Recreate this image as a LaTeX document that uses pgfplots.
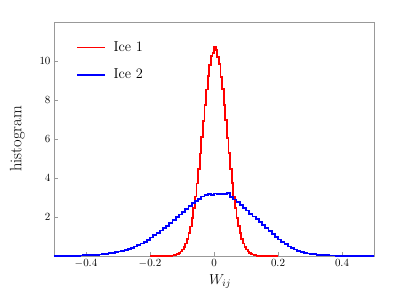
\documentclass[border=0pt]{standalone}
\usepackage{pgfplots}
\pgfplotsset{compat=1.18}
\begin{document}
\begin{tikzpicture}
\useasboundingbox (0pt,0pt) rectangle (393pt,295pt);
\begin{axis}[
  at={(54pt,39pt)}, anchor=south west,
  scale only axis, width=320pt, height=234pt,
  xmin=-0.5, xmax=0.5, ymin=0, ymax=12,
  xtick={-0.4,-0.2,0,0.2,0.4},
  xticklabels={$-0.4$,$-0.2$,$0$,$0.2$,$0.4$},
  ytick={2,4,6,8,10},
  tick pos=left, tick align=inside,
  major tick length=4pt,
  axis line style={gray!80},
  major tick style={gray!80, line width=0.6pt},
  tick label style={font=\fontsize{11}{13}\selectfont},
  xlabel={$W_{ij}$}, ylabel={histogram},
  xlabel style={font=\Large, yshift=0pt, xshift=6pt},
  ylabel style={font=\fontsize{16.5}{20}\selectfont, yshift=8pt},
  legend style={at={(0.07,0.925)}, anchor=north west, draw=none, fill=none,
    font=\Large, row sep=12pt, inner sep=0pt},
  legend cell align=left,
  /tikz/every odd column/.append style={column sep=7pt},
]
\addplot[color=red, line width=1.8pt, const plot,
  legend image code/.code={\fill[fill=red, draw=none] (0pt,-0.9pt) rectangle (28pt,0.9pt);}] coordinates {
(-0.200,0)(-0.195,0)(-0.190,0)(-0.185,0)(-0.180,0)(-0.175,0)(-0.170,0)(-0.165,0)(-0.160,0)
(-0.155,0.003)(-0.150,0.0045)(-0.145,0.0074)(-0.140,0.012)(-0.135,0.019)(-0.130,0.030)
(-0.125,0.047)(-0.120,0.072)(-0.115,0.109)(-0.110,0.161)(-0.105,0.233)(-0.100,0.332)
(-0.095,0.466)(-0.090,0.641)(-0.085,0.868)(-0.080,1.16)(-0.075,1.51)(-0.070,1.94)
(-0.065,2.45)(-0.060,3.05)(-0.055,3.72)(-0.050,4.46)(-0.045,5.26)(-0.040,6.09)
(-0.035,6.94)(-0.030,7.76)(-0.025,8.54)(-0.020,9.23)(-0.015,9.81)(-0.010,10.24)
(-0.005,10.40)(0.000,10.72)(0.005,10.55)(0.010,10.20)(0.015,9.85)(0.020,9.20)
(0.025,8.56)(0.030,7.74)(0.035,6.96)(0.040,6.07)(0.045,5.28)(0.050,4.45)
(0.055,3.73)(0.060,3.04)(0.065,2.46)(0.070,1.93)(0.075,1.52)(0.080,1.16)
(0.085,0.87)(0.090,0.64)(0.095,0.47)(0.100,0.33)(0.105,0.23)(0.110,0.16)
(0.115,0.11)(0.120,0.072)(0.125,0.047)(0.130,0.030)(0.135,0.019)(0.140,0.012)
(0.145,0.0074)(0.150,0.0045)(0.155,0.003)(0.160,0)(0.165,0)(0.170,0)(0.175,0)
(0.180,0)(0.185,0)(0.190,0)(0.195,0)(0.200,0)
};
\addlegendentry{Ice 1}
\addplot[color=blue, line width=1.8pt, const plot,
  legend image code/.code={\fill[fill=blue, draw=none] (0pt,-0.9pt) rectangle (28pt,0.9pt);}] coordinates {
(-0.50,0.002)(-0.49,0.003)(-0.48,0.004)(-0.47,0.006)(-0.46,0.008)(-0.45,0.011)
(-0.44,0.014)(-0.43,0.019)(-0.42,0.024)(-0.41,0.031)(-0.40,0.038)(-0.39,0.046)
(-0.38,0.056)(-0.37,0.068)(-0.36,0.082)(-0.35,0.10)(-0.34,0.12)(-0.33,0.14)
(-0.32,0.165)(-0.31,0.19)(-0.30,0.23)(-0.29,0.27)(-0.28,0.31)(-0.27,0.36)
(-0.26,0.42)(-0.25,0.49)(-0.24,0.56)(-0.23,0.64)(-0.22,0.73)(-0.21,0.83)
(-0.20,0.95)(-0.19,1.06)(-0.18,1.17)(-0.17,1.31)(-0.16,1.44)(-0.15,1.55)
(-0.14,1.70)(-0.13,1.85)(-0.12,1.98)(-0.11,2.13)(-0.10,2.27)(-0.09,2.43)
(-0.08,2.56)(-0.07,2.70)(-0.06,2.84)(-0.05,2.93)(-0.04,3.05)(-0.03,3.13)
(-0.02,3.17)(-0.01,3.12)(0.00,3.21)(0.01,3.18)(0.02,3.20)(0.03,3.16)
(0.04,3.22)(0.05,3.03)(0.06,2.90)(0.07,2.75)(0.08,2.62)(0.09,2.47)
(0.10,2.33)(0.11,2.17)(0.12,2.03)(0.13,1.90)(0.14,1.75)(0.15,1.59)
(0.16,1.44)(0.17,1.28)(0.18,1.13)(0.19,0.98)(0.20,0.85)(0.21,0.72)
(0.22,0.60)(0.23,0.49)(0.24,0.40)(0.25,0.33)(0.26,0.26)(0.27,0.21)
(0.28,0.17)(0.29,0.13)(0.30,0.11)(0.31,0.09)(0.32,0.07)(0.33,0.055)
(0.34,0.045)(0.35,0.035)(0.36,0.028)(0.37,0.022)(0.38,0.017)(0.39,0.013)
(0.40,0.010)(0.41,0.008)(0.42,0.006)(0.43,0.004)(0.44,0.003)(0.45,0.002)
(0.46,0.001)(0.47,0.001)(0.48,0.0005)(0.49,0)(0.50,0)
};
\addlegendentry{Ice 2}
\end{axis}
\end{tikzpicture}
\end{document}
